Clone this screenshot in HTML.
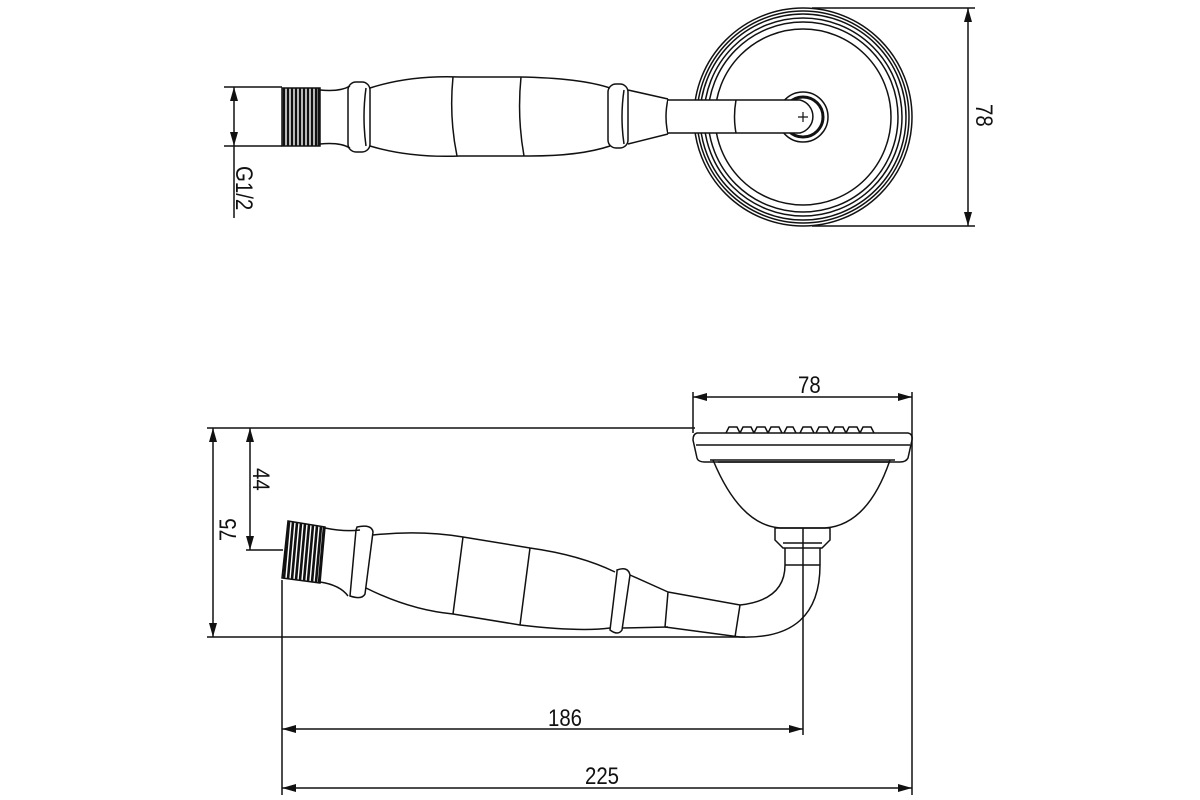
<!DOCTYPE html>
<html><head><style>body{margin:0;background:#fff}svg{display:block}text{font-family:"Liberation Sans",sans-serif;font-size:24px;fill:#111}</style></head>
<body>
<svg width="1200" height="800" viewBox="0 0 1200 800" xmlns="http://www.w3.org/2000/svg">
<defs>
<marker id="a" markerWidth="14" markerHeight="8" refX="14" refY="4" orient="auto" markerUnits="userSpaceOnUse"><path d="M0,0 L14,4 L0,8 Z" fill="#111"/></marker>
<marker id="b" markerWidth="14" markerHeight="8" refX="0" refY="4" orient="auto" markerUnits="userSpaceOnUse"><path d="M14,0 L0,4 L14,8 Z" fill="#111"/></marker>
</defs>
<g fill="none" stroke="#111" stroke-width="1.5">
<!-- TOP VIEW -->
<line x1="224" y1="87" x2="282" y2="87"/><line x1="224" y1="146" x2="282" y2="146"/>
<line x1="234" y1="87" x2="234" y2="146" marker-start="url(#b)" marker-end="url(#a)"/>
<line x1="234" y1="146" x2="234" y2="218"/>
<rect x="282" y="88" width="38" height="58" fill="#fff"/>
<g stroke-width="2.6"><line x1="284" y1="88" x2="284" y2="146"/><line x1="288" y1="88" x2="288" y2="146"/><line x1="292" y1="88" x2="292" y2="146"/><line x1="296" y1="88" x2="296" y2="146"/><line x1="300" y1="88" x2="300" y2="146"/><line x1="304" y1="88" x2="304" y2="146"/><line x1="308" y1="88" x2="308" y2="146"/><line x1="312" y1="88" x2="312" y2="146"/><line x1="316" y1="88" x2="316" y2="146"/><line x1="319" y1="88" x2="319" y2="146"/></g>
<path d="M320,90 Q340,92 350,86 M320,144 Q340,142 350,148"/>
<rect x="348" y="82" width="22" height="70" rx="8"/>
<path d="M366,88 Q362,117 366,146"/>
<path d="M370,88 Q410,75 460,77 L520,77 Q580,78 610,88"/>
<path d="M370,146 Q410,158 460,156 L530,156 Q580,156 610,146"/>
<path d="M453,77 Q449,117 457,156 M521,77 Q517,117 524,156"/>
<rect x="608" y="84" width="20" height="64" rx="8"/>
<path d="M624,90 Q620,117 624,144"/>
<path d="M628,90 L668,99 M628,144 L668,134 M668,99 Q664,117 668,134"/>
<circle cx="803" cy="117" r="109"/><circle cx="803" cy="117" r="106"/><circle cx="803" cy="117" r="103"/><circle cx="803" cy="117" r="99"/><circle cx="803" cy="117" r="95"/><circle cx="803" cy="117" r="88"/>
<circle cx="803" cy="117" r="25"/><circle cx="803" cy="117" r="20" stroke-width="3"/>
<path d="M668,100 L800,100 A17,17 0 0 1 800,133 L668,133" fill="#fff"/>
<path d="M736,100 Q733,117 736,133"/>
<path d="M798,117 h10 M803,112 v10" stroke-width="1.2"/>
<line x1="812" y1="8" x2="975" y2="8"/><line x1="812" y1="226" x2="975" y2="226"/>
<line x1="968" y1="8" x2="968" y2="226" marker-start="url(#b)" marker-end="url(#a)"/>

<!-- SIDE VIEW -->
<line x1="207" y1="428" x2="695" y2="428"/>
<line x1="207" y1="637" x2="745" y2="637"/>
<line x1="213" y1="428" x2="213" y2="637" marker-start="url(#b)" marker-end="url(#a)"/>
<line x1="250" y1="428" x2="250" y2="550" marker-start="url(#b)" marker-end="url(#a)"/>
<line x1="246" y1="550" x2="283" y2="550"/>
<path d="M288,521 L325,527 L320,583 L282,578 Z" fill="#fff"/>
<g stroke-width="2.6"><line x1="289" y1="522" x2="284" y2="578"/><line x1="293" y1="522" x2="288" y2="579"/><line x1="297" y1="523" x2="292" y2="579"/><line x1="301" y1="523" x2="296" y2="580"/><line x1="305" y1="524" x2="300" y2="580"/><line x1="309" y1="525" x2="304" y2="581"/><line x1="313" y1="525" x2="308" y2="581"/><line x1="317" y1="526" x2="312" y2="582"/><line x1="321" y1="526" x2="316" y2="582"/><line x1="324" y1="527" x2="319" y2="583"/></g>
<path d="M325,528 Q345,532 360,530 M320,582 Q340,585 348,596"/>
<path d="M357,527 Q372,524 373,532 L365,594 Q362,600 350,596 L356,530 Z"/>
<path d="M373,535 Q420,530 463,537 L530,548 Q580,555 615,572"/>
<path d="M366,588 Q410,610 453,614 L520,625 Q580,632 610,628"/>
<path d="M463,537 L453,614 M530,548 L520,625"/>
<path d="M617,570 Q628,566 630,575 L622,630 Q618,636 610,630 L617,572 Z"/>
<path d="M630,575 L668,592 M622,628 L668,627 M668,592 L665,627"/>
<path d="M668,592 L740,605 Q785,600 785,565 L785,548 M665,627 L740,637 Q820,640 820,565 L820,548"/>
<path d="M740,605 L735,637"/>
<path d="M785,565 L820,565"/>
<path d="M775,528 L830,528 L830,540 L822,548 L783,548 L775,540 Z"/>
<path d="M783,543 L822,543"/>
<path d="M713,460 Q740,525 780,528 L825,528 Q868,525 890,460"/>
<path d="M710,460 L895,460 M718,462 L890,462"/>
<path d="M697,433 L908,433 Q913,434 912,440 L908,458 Q906,462 900,462 L705,462 Q698,462 697,458 L693,440 Q693,434 697,433 Z"/>
<line x1="696" y1="445" x2="910" y2="445"/>
<path d="M726,433 l3,-6 h8 l3,6 M740,433 l3,-6 h8 l3,6 M754,433 l3,-6 h8 l3,6 M768,433 l3,-6 h8 l3,6 M784,433 l3,-6 h6 l3,6 M800,433 l3,-6 h8 l3,6 M816,433 l3,-6 h8 l3,6 M832,433 l3,-6 h8 l3,6 M846,433 l3,-6 h8 l3,6 M860,433 l3,-6 h8 l3,6"/>
<line x1="693" y1="392" x2="693" y2="433"/><line x1="912" y1="392" x2="912" y2="795"/>
<line x1="693" y1="397" x2="912" y2="397" marker-start="url(#b)" marker-end="url(#a)"/>
<line x1="803" y1="528" x2="803" y2="735"/>
<line x1="282" y1="580" x2="282" y2="795"/>
<line x1="282" y1="729" x2="803" y2="729" marker-start="url(#b)" marker-end="url(#a)"/>
<line x1="282" y1="788" x2="912" y2="788" marker-start="url(#b)" marker-end="url(#a)"/>
</g>
<text transform="translate(236,166) rotate(90) scale(0.85,1)">G1/2</text>
<text transform="translate(976,104) rotate(90) scale(0.85,1)">78</text>
<text transform="translate(236,541) rotate(-90) scale(0.85,1)">75</text>
<text transform="translate(253,468) rotate(90) scale(0.85,1)">44</text>
<text transform="translate(798,393) scale(0.85,1)">78</text>
<text transform="translate(548,726) scale(0.85,1)">186</text>
<text transform="translate(585,784) scale(0.85,1)">225</text>
</svg>
</body></html>
